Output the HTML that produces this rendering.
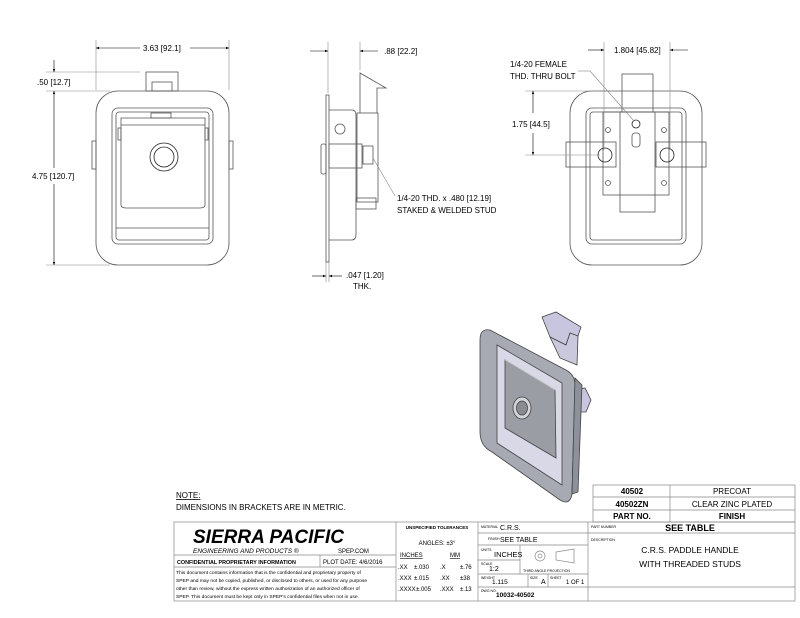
<!DOCTYPE html>
<html><head><meta charset="utf-8"><style>
html,body{margin:0;padding:0;background:#fff}
svg{display:block;font-family:"Liberation Sans",Arial,sans-serif}
</style></head><body>
<svg width="800" height="618" viewBox="0 0 800 618" xmlns="http://www.w3.org/2000/svg">
<defs>
<marker id="a" viewBox="0 0 10 10" refX="10" refY="5" markerWidth="7" markerHeight="5" orient="auto-start-reverse"><path d="M0,1 L10,5 L0,9z" fill="#000"/></marker>
</defs>
<g fill="none" stroke="#555" stroke-width="0.8">
<!-- FRONT VIEW -->
<rect x="96" y="91" width="133" height="174" rx="22"/>
<rect x="112" y="108" width="101" height="136" rx="6"/>
<rect x="116" y="112" width="93" height="128" rx="3"/>
<path d="M121 118 H205 V205 Q205 208 200 208 H126 Q121 208 121 205Z"/>
<line x1="121" y1="125" x2="205" y2="125"/>
<rect x="118" y="128" width="3" height="12"/><rect x="205" y="128" width="3" height="12"/>
<rect x="151" y="113" width="20" height="5"/>
<rect x="146" y="72" width="32" height="19"/><rect x="152" y="82" width="20" height="9"/>
<rect x="92" y="141" width="4" height="28"/><rect x="229" y="141" width="4" height="28"/>
<circle cx="164" cy="157" r="14" stroke="#222"/><circle cx="164" cy="157" r="10" stroke="#222"/>
<line x1="116" y1="228" x2="209" y2="228"/>
<g stroke="#888" stroke-width="0.6">
<line x1="96" y1="40" x2="96" y2="90"/><line x1="229" y1="40" x2="229" y2="90"/>
<line x1="46" y1="72" x2="140" y2="72"/><line x1="46" y1="91" x2="110" y2="91"/><line x1="46" y1="265" x2="110" y2="265"/>
</g>
<g stroke="#000" stroke-width="0.6">
<line x1="96" y1="48" x2="140" y2="48" marker-start="url(#a)"/><line x1="190" y1="48" x2="229" y2="48" marker-end="url(#a)"/>
<line x1="54" y1="60" x2="54" y2="72" marker-end="url(#a)"/>
<line x1="54" y1="91" x2="54" y2="168" marker-start="url(#a)"/><line x1="54" y1="184" x2="54" y2="265" marker-end="url(#a)"/>
</g>
<!-- SIDE VIEW -->
<rect x="326" y="95" width="3" height="167"/>
<path d="M329 110 H352 Q356 110 356 116 V234 Q356 240 352 240 H329"/>
<rect x="357" y="113" width="21" height="89"/>
<path d="M360 113 V73 L386 88 H377 V113"/>
<rect x="356" y="198" width="20" height="11"/>
<circle cx="340" cy="129" r="5"/>
<rect x="321" y="144" width="5" height="30" rx="2"/>
<rect x="329" y="144" width="33" height="24"/>
<rect x="363" y="146" width="10" height="18"/>
<g stroke="#888" stroke-width="0.6">
<line x1="328" y1="42" x2="328" y2="93"/><line x1="360" y1="42" x2="360" y2="70"/>
<line x1="326" y1="262" x2="326" y2="282"/><line x1="329" y1="262" x2="329" y2="282"/>
<line x1="373" y1="158" x2="395" y2="196"/>
</g>
<g stroke="#000" stroke-width="0.6">
<line x1="310" y1="51" x2="328" y2="51" marker-end="url(#a)"/><line x1="378" y1="51" x2="360" y2="51" marker-end="url(#a)"/>
<line x1="312" y1="276" x2="326" y2="276" marker-end="url(#a)"/><line x1="342" y1="276" x2="329" y2="276" marker-end="url(#a)"/>
</g>
<!-- BACK VIEW -->
<rect x="570" y="91" width="132" height="174" rx="22"/>
<rect x="586" y="108" width="100" height="136" rx="6"/>
<rect x="590" y="112" width="92" height="128" rx="3"/>
<rect x="603" y="112" width="66" height="83"/>
<rect x="620" y="112" width="35" height="100"/>
<rect x="622" y="74" width="31" height="38"/>
<rect x="566" y="142" width="50" height="25"/><rect x="656" y="142" width="50" height="25"/>
<circle cx="605" cy="155" r="7" stroke="#222"/><circle cx="667" cy="155" r="7" stroke="#222"/>
<circle cx="608" cy="130" r="2.5"/><circle cx="664" cy="130" r="2.5"/><circle cx="608" cy="183" r="2.5"/><circle cx="664" cy="183" r="2.5"/>
<circle cx="636" cy="124" r="4" stroke="#222"/><rect x="632" y="133" width="8" height="14" rx="3"/>
<g stroke="#888" stroke-width="0.6">
<line x1="604" y1="42" x2="604" y2="150"/><line x1="670" y1="42" x2="670" y2="150"/>
<line x1="525" y1="91" x2="600" y2="91"/><line x1="525" y1="155" x2="600" y2="155"/>
<line x1="578" y1="71" x2="590" y2="71"/><line x1="590" y1="71" x2="634" y2="121"/>
</g>
<g stroke="#000" stroke-width="0.6">
<line x1="588" y1="50" x2="604" y2="50" marker-end="url(#a)"/><line x1="688" y1="50" x2="670" y2="50" marker-end="url(#a)"/>
<line x1="533" y1="113" x2="533" y2="91" marker-end="url(#a)"/><line x1="533" y1="133" x2="533" y2="155" marker-end="url(#a)"/>
</g>
</g>
<!-- ISO VIEW -->
<g stroke="#444" stroke-width="0.8">
<path d="M542 317 L556 312 L581 327 L578 336 L570 333 L566 345 L550 337 Z" fill="#c8c6df"/>
<path d="M550 337 L566 345 L570 333 L578 336 L577 365 L560 358 Z" fill="#c9c8dc"/>
<path d="M573 390 L585 388 L591 400 L586 412 L575 412 Z" fill="#c8c6df"/>
<path d="M490 330 Q480 328 480 340 L480 432 Q480 446 492 452 L560 500 Q570 506 572 494 L575 385 Q575 375 566 370 Z" fill="#a7a9b3"/>
<path d="M572 494 L578 492 L582 385 L575 378 Z" fill="#8e909a"/>
<path d="M497 345 L562 383 L562 485 L497 443 Z" fill="#d9d8e6"/>
<path d="M505 360 L555 390 L556 458 L505 428 Z" fill="#9b9da5"/>
<path d="M505 360 L555 390" stroke="#ccc"/>
<ellipse cx="522" cy="408" rx="9" ry="11" fill="#d4d5da"/>
<ellipse cx="522" cy="408" rx="5.5" ry="7" fill="#8a8b92"/>
</g>
<!-- dimension texts -->
<g font-size="8" fill="#000">
<text x="143" y="51">3.63 [92.1]</text>
<text x="37" y="85">.50 [12.7]</text>
<text x="32" y="179">4.75 [120.7]</text>
<text x="384" y="54">.88 [22.2]</text>
<text x="397" y="201">1/4-20 THD. x .480 [12.19]</text>
<text x="397" y="213">STAKED &amp; WELDED STUD</text>
<text x="346" y="278">.047 [1.20]</text>
<text x="353" y="289">THK.</text>
<text x="614" y="53">1.804 [45.82]</text>
<text x="510" y="67">1/4-20 FEMALE</text>
<text x="510" y="79">THD. THRU BOLT</text>
<text x="512" y="127">1.75 [44.5]</text>
<text x="176" y="498" text-decoration="underline">NOTE:</text>
<text x="176" y="510">DIMENSIONS IN BRACKETS ARE IN METRIC.</text>
</g>
<g fill="none" stroke="#888" stroke-width="0.7">
<rect x="593" y="485" width="202" height="37"/>
<line x1="593" y1="497" x2="795" y2="497"/><line x1="593" y1="510" x2="795" y2="510"/>
<line x1="670" y1="485" x2="670" y2="522"/>
<rect x="174" y="522" width="621" height="79"/>
<line x1="396" y1="522" x2="396" y2="601"/><line x1="478" y1="522" x2="478" y2="601"/><line x1="588" y1="522" x2="588" y2="601"/>
<line x1="174" y1="555" x2="396" y2="555"/><line x1="174" y1="567" x2="396" y2="567"/><line x1="320" y1="555" x2="320" y2="567"/>
<line x1="588" y1="533" x2="795" y2="533"/><line x1="588" y1="587" x2="795" y2="587"/>
<line x1="478" y1="533" x2="588" y2="533"/><line x1="478" y1="545" x2="588" y2="545"/><line x1="478" y1="560" x2="520" y2="560"/>
<line x1="478" y1="574" x2="588" y2="574"/><line x1="478" y1="587" x2="588" y2="587"/>
<line x1="520" y1="545" x2="520" y2="574"/><line x1="528" y1="574" x2="528" y2="587"/><line x1="548" y1="574" x2="548" y2="587"/>
<circle cx="540" cy="556" r="5"/><circle cx="540" cy="556" r="2"/>
<path d="M556 552 L574 549 L574 563 L556 560Z"/>
</g>
<g fill="#000" font-size="8">
<text x="632" y="494" text-anchor="middle" font-weight="bold">40502</text>
<text x="732" y="494" text-anchor="middle">PRECOAT</text>
<text x="632" y="507" text-anchor="middle" font-weight="bold">40502ZN</text>
<text x="732" y="507" text-anchor="middle">CLEAR ZINC PLATED</text>
<text x="632" y="519" text-anchor="middle" font-weight="bold">PART NO.</text>
<text x="732" y="519" text-anchor="middle" font-weight="bold">FINISH</text>
<text x="193" y="543" font-size="19" font-weight="bold" font-style="italic">SIERRA PACIFIC</text>
<text x="193" y="553" font-size="6.5" font-style="italic">ENGINEERING AND PRODUCTS ®</text>
<text x="338" y="553" font-size="6">SPEP.COM</text>
<text x="177" y="564" font-size="5.4" font-weight="bold">CONFIDENTIAL PROPRIETARY INFORMATION</text>
<text x="323" y="564" font-size="6">PLOT DATE:  4/6/2016</text>
<g font-size="4.9">
<text x="176" y="574">This document contains information that is the confidential and proprietary property of</text>
<text x="176" y="582">SPEP and may not be copied, published, or disclosed to others, or used for any purpose</text>
<text x="176" y="590">other than review, without the express written authorization of an authorized officer of</text>
<text x="176" y="598">SPEP. This document must be kept only in SPEP's confidential files when not in use.</text>
</g>
<text x="437" y="529" font-size="4.5" font-weight="bold" text-anchor="middle">UNSPECIFIED TOLERANCES</text>
<text x="437" y="545" font-size="6" text-anchor="middle">ANGLES: ±3°</text>
<text x="400" y="557" font-size="6" text-decoration="underline">INCHES</text>
<text x="450" y="557" font-size="6" text-decoration="underline">MM</text>
<g font-size="6">
<text x="398" y="569">.XX</text><text x="414" y="569">±.030</text><text x="440" y="569">.X</text><text x="460" y="569">±.76</text>
<text x="398" y="580">.XXX</text><text x="414" y="580">±.015</text><text x="440" y="580">.XX</text><text x="460" y="580">±38</text>
<text x="398" y="591">.XXXX</text><text x="416" y="591">±.005</text><text x="440" y="591">.XXX</text><text x="460" y="591">±.13</text>
</g>
<g font-size="3.5"><text x="481" y="528">MATERIAL</text><text x="488" y="540">FINISH</text><text x="481" y="551">UNITS</text><text x="481" y="565">SCALE</text><text x="481" y="579">WEIGHT</text><text x="481" y="592">DWG NO.</text><text x="591" y="528">PART NUMBER</text><text x="591" y="541">DESCRIPTION</text><text x="523" y="572">THIRD ANGLE PROJECTION</text><text x="530" y="579">SIZE</text><text x="550" y="579">SHEET</text></g>
<text x="500" y="530" font-size="7">C.R.S.</text>
<text x="500" y="542" font-size="7">SEE TABLE</text>
<text x="494" y="557" font-size="7.5">INCHES</text>
<text x="489" y="571" font-size="7">1:2</text>
<text x="492" y="584" font-size="6.5">1.115</text>
<text x="541" y="584" font-size="7">A</text>
<text x="566" y="584" font-size="6">1  OF  1</text>
<text x="496" y="597" font-size="6.5" font-weight="bold">10032-40502</text>
<text x="690" y="531" font-size="9" font-weight="bold" text-anchor="middle">SEE TABLE</text>
<text x="690" y="553" font-size="8.5" text-anchor="middle">C.R.S. PADDLE HANDLE</text>
<text x="690" y="567" font-size="8.5" text-anchor="middle">WITH THREADED STUDS</text>
</g>
</svg>
</body></html>
